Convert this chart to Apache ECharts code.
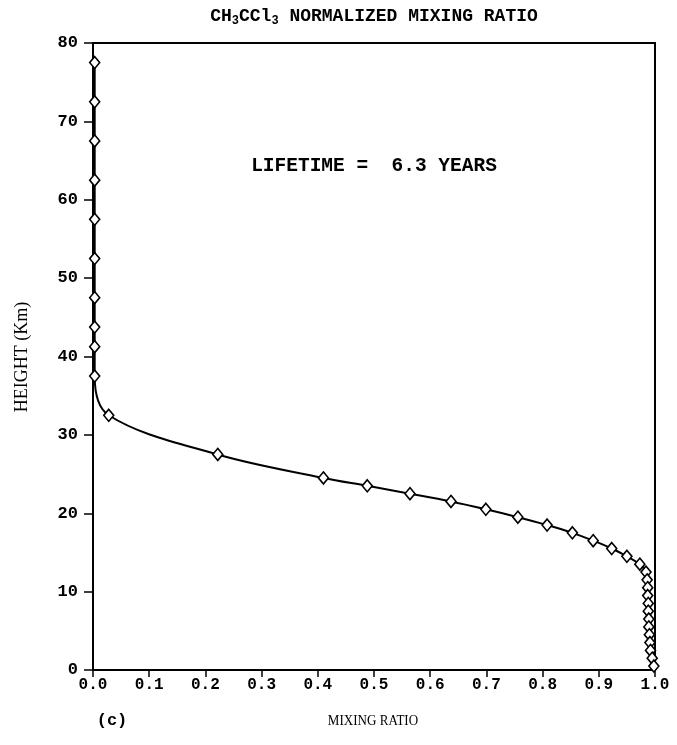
<!DOCTYPE html>
<html>
<head>
<meta charset="utf-8">
<script src="https://cdn.jsdelivr.net/npm/echarts@6/dist/echarts.min.js"></script>
<style>
  html, body { margin: 0; padding: 0; background: #fff; }
  #chart { width: 677px; height: 745px; }
</style>
</head>
<body>
<div id="chart"></div>
<script>
// Normalized CH3CCl3 mixing ratio versus height (layer midpoints, km)
const heights = [77.5, 72.5, 67.5, 62.5, 57.5, 52.5, 47.5, 43.75, 41.25, 37.5,
                 32.5, 27.5, 24.5, 23.5, 22.5, 21.5, 20.5, 19.5, 18.5, 17.5,
                 16.5, 15.5, 14.5, 13.5, 12.5, 11.5, 10.5, 9.5, 8.5, 7.5,
                 6.5, 5.5, 4.5, 3.5, 2.5, 1.5, 0.5];
const mixingRatio = [0.003, 0.003, 0.003, 0.003, 0.003, 0.003, 0.003, 0.003, 0.003, 0.003,
                     0.028, 0.222, 0.410, 0.488, 0.564, 0.637, 0.699, 0.756, 0.808, 0.853,
                     0.890, 0.923, 0.950, 0.973, 0.984, 0.986, 0.987, 0.987, 0.988, 0.988,
                     0.989, 0.989, 0.990, 0.991, 0.992, 0.995, 0.998];
const xTicks = { min: 0, max: 1, step: 0.1 };
const yTicks = { min: 0, max: 80, step: 10 };
const lifetimeText = 'LIFETIME =  6.3 YEARS';

const points = heights.map((h, i) => [mixingRatio[i], h]);

const chart = echarts.init(document.getElementById('chart'), null, { renderer: 'canvas' });
const mono = '"Liberation Mono", "Courier New", monospace';
const serif = '"Liberation Serif", "Times New Roman", serif';

chart.setOption({
  animation: false,
  backgroundColor: '#fff',
  grid: {
    left: 93, right: 22, top: 43, bottom: 75,
    show: true, borderColor: '#000', borderWidth: 2, backgroundColor: 'transparent'
  },
  xAxis: {
    type: 'value',
    min: xTicks.min, max: xTicks.max, interval: xTicks.step,
    axisLine: { show: true, lineStyle: { color: '#000', width: 2 } },
    axisTick: { show: true, inside: false, length: 7, lineStyle: { color: '#000', width: 1.5 } },
    axisLabel: {
      margin: 7, color: '#000', fontFamily: mono, fontWeight: 'bold', fontSize: 16,
      formatter: v => v.toFixed(1)
    },
    splitLine: { show: false }
  },
  yAxis: {
    type: 'value',
    min: yTicks.min, max: yTicks.max, interval: yTicks.step,
    axisLine: { show: true, lineStyle: { color: '#000', width: 2 } },
    axisTick: { show: true, inside: false, length: 9, lineStyle: { color: '#000', width: 1.5 } },
    axisLabel: {
      margin: 15, color: '#000', fontFamily: mono, fontWeight: 'bold', fontSize: 17
    },
    splitLine: { show: false }
  },
  series: [{
    type: 'line',
    data: points,
    smooth: 0.35,
    symbol: 'diamond',
    symbolSize: [10, 12],
    showAllSymbol: true,
    lineStyle: { color: '#000', width: 2 },
    itemStyle: { color: '#fff', borderColor: '#000', borderWidth: 1.6 },
    z: 3
  }],
  graphic: [
    {
      type: 'text', x: 374, y: 16,
      style: {
        text: '{m|CH}{s|3}{m|CCl}{s|3}{m| NORMALIZED MIXING RATIO}',
        textAlign: 'center', textVerticalAlign: 'middle',
        rich: {
          m: { fontFamily: mono, fontWeight: 'bold', fontSize: 18, lineHeight: 22, fill: '#000', verticalAlign: 'middle' },
          s: { fontFamily: mono, fontWeight: 'bold', fontSize: 12, lineHeight: 12, fill: '#000', verticalAlign: 'bottom' }
        }
      }
    },
    {
      type: 'text', x: 374, y: 166,
      style: {
        text: lifetimeText, textAlign: 'center', textVerticalAlign: 'middle',
        font: 'bold 19.5px ' + mono, fill: '#000'
      }
    },
    {
      type: 'text', x: 22, y: 357, rotation: Math.PI / 2,
      style: {
        text: 'HEIGHT (Km)', textAlign: 'center', textVerticalAlign: 'middle',
        font: '18px ' + serif, fill: '#000'
      }
    },
    {
      type: 'text', x: 373, y: 721, scaleX: 0.87,
      style: {
        text: 'MIXING RATIO', textAlign: 'center', textVerticalAlign: 'middle',
        font: '15px ' + serif, fill: '#000'
      }
    },
    {
      type: 'text', x: 112, y: 721,
      style: {
        text: '(c)', textAlign: 'center', textVerticalAlign: 'middle',
        font: 'bold 17px ' + mono, fill: '#000'
      }
    }
  ]
});
</script>
</body>
</html>
